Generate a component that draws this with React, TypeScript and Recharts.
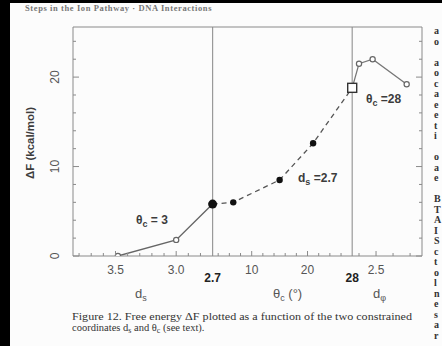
import React from "react";
import { ComposedChart, Line, XAxis, YAxis, ReferenceLine } from "recharts";

// free energy along d_s (theta_c held at 3)
const dsValues = [3.48, 3.0, 2.7];
const dsFreeEnergy = [0.0, 1.8, 5.8];
// free energy along theta_c (d_s held at 2.7)
const thetaValues = [3, 6.7, 15, 21, 28];
const thetaFreeEnergy = [5.8, 6.0, 8.5, 12.6, 18.8];
// free energy along d_phi (theta_c held at 28)
const dphiValues = [2.64, 2.6, 2.52, 2.32];
const dphiFreeEnergy = [18.8, 21.5, 22.0, 19.2];

const dsTicks = [3.8, 3.7, 3.6, 3.5, 3.4, 3.3, 3.2, 3.1, 3.0, 2.9, 2.8];
const dsTickLabels = ["3.5", "3.0"];
const thetaTicks = [4, 6, 8, 10, 12, 14, 16, 18, 20, 22, 24, 26];
const thetaTickLabels = ["10", "20"];
const dphiTicks = [2.6, 2.5, 2.4, 2.3];
const dphiTickLabels = ["2.5"];
const boundaryLabels = ["2.7", "28"];
const yTicks = [0, 2, 4, 6, 8, 10, 12, 14, 16, 18, 20, 22, 24];
const yTickLabels = ["0", "10", "20"];
const yMax = 25.6;

// the three panels share one composite axis: d_s -> [0,1], theta_c -> [1,2], d_phi -> [2,2.5]
const DS = [3.85, 2.7];
const TH = [3, 28];
const DP = [2.64, 2.23];
const uDs = (d: number) => (DS[0] - d) / (DS[0] - DS[1]);
const uTh = (t: number) => 1 + (t - TH[0]) / (TH[1] - TH[0]);
const uDp = (d: number) => 2 + (0.5 * (DP[0] - d)) / (DP[0] - DP[1]);

const dsData = dsValues.map((v, i) => ({ u: uDs(v), dF: dsFreeEnergy[i] }));
const thetaData = thetaValues.map((v, i) => ({ u: uTh(v), dF: thetaFreeEnergy[i] }));
const dphiData = dphiValues.map((v, i) => ({ u: uDp(v), dF: dphiFreeEnergy[i] }));

type TickInfo = { u: number; label: string; boundary?: boolean };
const pick = (v: number, labels: string[], digits: number) =>
  labels.includes(v.toFixed(digits)) ? v.toFixed(digits) : "";
const xTickInfo: TickInfo[] = [
  ...dsTicks.map((v) => ({ u: uDs(v), label: pick(v, dsTickLabels, 1) })),
  { u: 1, label: boundaryLabels[0], boundary: true },
  ...thetaTicks.map((v) => ({ u: uTh(v), label: pick(v, thetaTickLabels, 0) })),
  { u: 2, label: boundaryLabels[1], boundary: true },
  ...dphiTicks.map((v) => ({ u: uDp(v), label: pick(v, dphiTickLabels, 1) })),
];
const xTickValues = xTickInfo.map((t) => t.u);

const frame = "#8a8a8a";
const ink = "#3c3c3c";
const sans = "'Liberation Sans', Arial, sans-serif";
const serif = "'Liberation Serif', 'Times New Roman', serif";

function XTick(props: any) {
  const { x, y, payload, top } = props;
  const info = xTickInfo.find((t) => Math.abs(t.u - payload.value) < 1e-6);
  if (!info) return <g />;
  const len = info.boundary ? 0 : info.label ? 5 : 3;
  const dir = top ? 1 : -1;
  return (
    <g>
      {len > 0 && <line x1={x} x2={x} y1={y} y2={y + dir * len} stroke={frame} />}
      {!top && info.label && (
        <text
          x={x}
          y={y + (info.boundary ? 26 : 18)}
          textAnchor="middle"
          fontFamily={sans}
          fontSize={12}
          fontWeight={info.boundary ? 700 : 400}
          fill={info.boundary ? "#222" : "#555"}
        >
          {info.label}
        </text>
      )}
    </g>
  );
}

function YTick(props: any) {
  const { x, y, payload, right } = props;
  const label = yTickLabels.includes(String(payload.value)) ? String(payload.value) : "";
  const len = label ? 6 : 3;
  const dir = right ? -1 : 1;
  const lx = x - 18;
  return (
    <g>
      <line x1={x} x2={x + dir * len} y1={y} y2={y} stroke={frame} />
      {!right && label && (
        <text
          x={lx}
          y={y}
          transform={`rotate(-90 ${lx} ${y})`}
          textAnchor="middle"
          dominantBaseline="central"
          fontFamily={sans}
          fontSize={12}
          fill="#555"
        >
          {label}
        </text>
      )}
    </g>
  );
}

const openDot = (skip: number[]) => (p: any) => {
  const { cx, cy, index } = p;
  if (skip.includes(index)) return <g key={`o-${index}`} />;
  return <circle key={`o-${index}`} cx={cx} cy={cy} r={2.6} fill="#fff" stroke="#666" strokeWidth={1.2} />;
};

const thetaDot = (p: any) => {
  const { cx, cy, index } = p;
  if (index === 0) return <circle key={`t-${index}`} cx={cx} cy={cy} r={4.5} fill="#111" />;
  if (index === thetaValues.length - 1)
    return (
      <rect key={`t-${index}`} x={cx - 4.5} y={cy - 4.5} width={9} height={9} fill="#fff" stroke="#333" strokeWidth={1.4} />
    );
  return <circle key={`t-${index}`} cx={cx} cy={cy} r={3.2} fill="#111" />;
};

const rightColumn = [
  "a", "o", "", "a", "o", "c", "a", "e", "e", "t", "i", "", "o", "a", "e", "",
  "B", "T", "A", "I", "S", "c", "t", "o", "l", "n", "e", "s", "a", "r",
];

export default function App() {
  return (
    <div
      style={{
        position: "absolute",
        left: 0,
        top: 0,
        width: 442,
        height: 346,
        overflow: "hidden",
        background: "#fcfcfc",
      }}
    >
      <div
        style={{
          position: "absolute",
          left: 25,
          top: 3,
          fontFamily: serif,
          fontSize: 8.5,
          lineHeight: "10px",
          fontWeight: 700,
          letterSpacing: 0.6,
          color: "#777",
          whiteSpace: "nowrap",
        }}
      >
        Steps in the Ion Pathway · DNA Interactions
      </div>
      <div style={{ position: "absolute", left: 0, top: 0 }}>
        <ComposedChart width={442} height={300} margin={{ top: 26, right: 19, bottom: 43, left: 72 }}>
          <XAxis
            dataKey="u"
            type="number"
            domain={[0, 2.5]}
            ticks={xTickValues}
            interval={0}
            height={1}
            tickSize={0}
            tickMargin={0}
            tickLine={false}
            axisLine={{ stroke: frame }}
            tick={(p: any) => <XTick {...p} />}
            allowDataOverflow
          />
          <XAxis
            xAxisId="t"
            orientation="top"
            type="number"
            domain={[0, 2.5]}
            ticks={xTickValues}
            interval={0}
            height={1}
            tickSize={0}
            tickMargin={0}
            tickLine={false}
            axisLine={{ stroke: frame }}
            tick={(p: any) => <XTick {...p} top />}
            allowDataOverflow
          />
          <YAxis
            type="number"
            domain={[0, yMax]}
            ticks={yTicks}
            interval={0}
            width={1}
            tickSize={0}
            tickMargin={0}
            tickLine={false}
            axisLine={{ stroke: frame }}
            tick={(p: any) => <YTick {...p} />}
            allowDataOverflow
          />
          <YAxis
            yAxisId="r"
            orientation="right"
            type="number"
            domain={[0, yMax]}
            ticks={yTicks}
            interval={0}
            width={1}
            tickSize={0}
            tickMargin={0}
            tickLine={false}
            axisLine={{ stroke: frame }}
            tick={(p: any) => <YTick {...p} right />}
            allowDataOverflow
          />
          <ReferenceLine x={1} stroke="#9a9a9a" strokeWidth={1.2} />
          <ReferenceLine x={2} stroke="#9a9a9a" strokeWidth={1.2} />
          <Line
            data={dphiData}
            dataKey="dF"
            type="linear"
            stroke="#777"
            strokeWidth={1.3}
            dot={openDot([0])}
            isAnimationActive={false}
          />
          <Line
            data={dsData}
            dataKey="dF"
            type="linear"
            stroke="#666"
            strokeWidth={1.4}
            dot={openDot([dsValues.length - 1])}
            isAnimationActive={false}
          />
          <Line
            data={thetaData}
            dataKey="dF"
            type="linear"
            stroke="#555"
            strokeWidth={1.3}
            strokeDasharray="5 4"
            dot={thetaDot}
            isAnimationActive={false}
          />
        </ComposedChart>
      </div>
      <svg width={442} height={346} style={{ position: "absolute", left: 0, top: 0, pointerEvents: "none" }}>
        <g fontFamily={sans} fill={ink}>
          <text x={30} y={143} transform="rotate(-90 30 143)" textAnchor="middle" dominantBaseline="central" fontSize={11.5} fontWeight={600}>
            ΔF (kcal/mol)
          </text>
          <text x={136} y={224} fontSize={12} fontWeight={600}>
            θ<tspan fontSize={9} dy={3}>c</tspan>
            <tspan dy={-3}> = 3</tspan>
          </text>
          <text x={298} y={182} fontSize={12} fontWeight={600}>
            d<tspan fontSize={9} dy={3}>s</tspan>
            <tspan dy={-3}> =2.7</tspan>
          </text>
          <text x={366} y={103} fontSize={12} fontWeight={600}>
            θ<tspan fontSize={9} dy={3}>c</tspan>
            <tspan dy={-3}> =28</tspan>
          </text>
          <text x={135} y={298} fontSize={13} fill="#555">
            d<tspan fontSize={9} dy={3}>s</tspan>
          </text>
          <text x={273} y={298} fontSize={13} fill="#555">
            θ<tspan fontSize={9} dy={3}>c</tspan>
            <tspan dy={-3}> (°)</tspan>
          </text>
          <text x={373} y={298} fontSize={13} fill="#555">
            d<tspan fontSize={9} dy={3}>φ</tspan>
          </text>
        </g>
        <g fontFamily={serif} fontSize={10.5} fill="#333">
          <text x={72} y={320} textLength={340} lengthAdjust="spacingAndGlyphs">
            Figure 12.  Free energy ΔF plotted as a function of the two constrained
          </text>
          <text x={72} y={331}>
            coordinates d<tspan fontSize={8} dy={2}>s</tspan>
            <tspan dy={-2}> and θ</tspan>
            <tspan fontSize={8} dy={2}>c</tspan>
            <tspan dy={-2}> (see text).</tspan>
          </text>
        </g>
      </svg>
      <div
        style={{
          position: "absolute",
          left: 434,
          top: 26,
          fontFamily: serif,
          fontSize: 10,
          lineHeight: "10.5px",
          fontWeight: 700,
          color: "#333",
        }}
      >
        {rightColumn.map((s, i) => (
          <div key={i} style={{ height: 10.5 }}>
            {s}
          </div>
        ))}
      </div>
      <div style={{ position: "absolute", left: 0, top: 0, width: 442, height: 3, background: "#000" }} />
      <div style={{ position: "absolute", left: 0, top: 0, width: 10, height: 346, background: "#000" }} />
    </div>
  );
}
